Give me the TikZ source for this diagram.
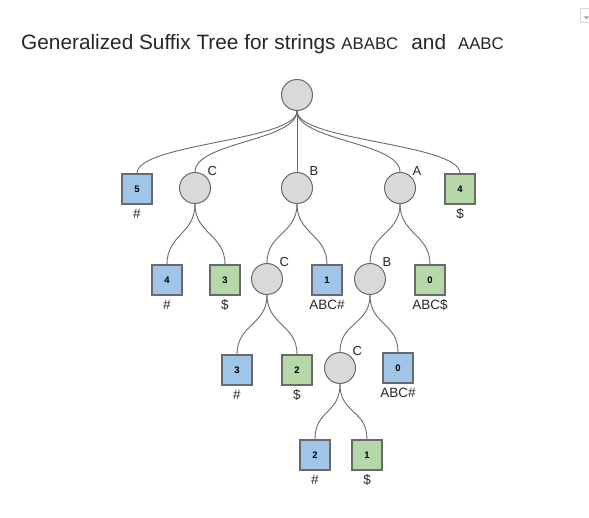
\documentclass[tikz,border=0pt]{standalone}
\usepackage{fontspec}
\setmainfont{Liberation Sans}

\definecolor{leafblue}{HTML}{9FC5E8}
\definecolor{leafgreen}{HTML}{B6D7A8}
\definecolor{nodegray}{HTML}{D9D9D9}
\definecolor{rimgray}{HTML}{6A6A6A}
\definecolor{inkgray}{HTML}{262626}

\begin{document}
\begin{tikzpicture}[
    x=1pt, y=-1pt,
    inode/.style={
        circle,
        draw=rimgray,
        fill=nodegray,
        line width=1pt,
        minimum size=31pt,
        inner sep=0pt,
    },
    sqa/.style={
        rectangle,
        draw=rimgray,
        fill=leafblue,
        line width=1.2pt,
        minimum size=30pt,
        inner sep=0pt,
        text=black,
        font=\fontsize{9.5}{10}\selectfont\bfseries,
    },
    sqb/.style={sqa,fill=leafgreen,},
    elbl/.style={
        font=\fontsize{13}{14}\selectfont,
        text=inkgray,
        inner sep=1pt,
        label distance=0pt,
    },
    slbl/.style={
        font=\fontsize{13.5}{15}\selectfont,
        text=inkgray,
        inner sep=2pt,
        label distance=2pt,
    },
    link/.style={
        draw=rimgray,
        line width=0.9pt,
    },
]
    \useasboundingbox (0,0) rectangle (589,518);
    % ~~~ title ~~~~~~~~~~~~
    \node[anchor=base west, inner sep=0pt, text=inkgray] (title) at (21,50)
        {\fontsize{20.8}{24}\selectfont Generalized Suffix Tree for strings
         {\fontsize{16.8}{20}\selectfont ABABC}\hspace{13pt}and\hspace{12pt}{\fontsize{16.8}{20}\selectfont AABC}};
    % ~~~ corner icon ~~~~~~~~~
    \node[draw=black!15, line width=0.8pt, minimum width=12pt, minimum height=14pt,
          inner sep=0pt, anchor=north west] (menu) at (580,8) {};
    \fill[black!35] ([xshift=-3pt,yshift=-1pt]menu.center) -- ([xshift=3pt,yshift=-1pt]menu.center)
        -- ([yshift=-4pt]menu.center) -- cycle;
    % ~~~ tree nodes ~~~~~~~~~~~~
    \node[inode] (root) at (297,95) {};
    % level 1
    \node[sqa, label={[slbl]below:\#}] (l5) at (137,189) {5};
    \node[inode, label={[elbl]45:C}] (nC) at (195,188) {};
    \node[inode, label={[elbl]45:B}] (nB) at (297,188) {};
    \node[inode, label={[elbl]45:A}] (nA) at (400,188) {};
    \node[sqb, label={[slbl]below:\$}] (g4) at (460,189) {4};
    % level 2
    \node[sqa, label={[slbl]below:\#}] (b4) at (167,280) {4};
    \node[sqb, label={[slbl]below:\$}] (g3) at (225,280) {3};
    \node[inode, label={[elbl]45:C}] (nBC) at (267,279) {};
    \node[sqa, label={[slbl]below:ABC\#}] (b1) at (327,280) {1};
    \node[inode, label={[elbl]45:B}] (nAB) at (370,279) {};
    \node[sqb, label={[slbl]below:ABC\$}] (g0) at (430,280) {0};
    % level 3
    \node[sqa, label={[slbl]below:\#}] (b3) at (237,370) {3};
    \node[sqb, label={[slbl]below:\$}] (g2) at (297,370) {2};
    \node[inode, label={[elbl]45:C}] (nABC) at (340,368) {};
    \node[sqa, label={[slbl]below:ABC\#}] (b0) at (398,368) {0};
    % level 4
    \node[sqa, label={[slbl]below:\#}] (b2) at (315,455) {2};
    \node[sqb, label={[slbl]below:\$}] (g1) at (367,455) {1};
    % ~~~ curved links, parent bottom to child top ~~~~~~~~~
    \foreach \p/\c in {root/l5, root/nC, root/nB, root/nA, root/g4,
                       nC/b4, nC/g3, nB/nBC, nB/b1, nA/nAB, nA/g0,
                       nBC/b3, nBC/g2, nAB/nABC, nAB/b0, nABC/b2, nABC/g1}
        \draw[link] (\p.south) .. controls +(0,30) and +(0,-30) .. (\c.north);
\end{tikzpicture}
\end{document}
